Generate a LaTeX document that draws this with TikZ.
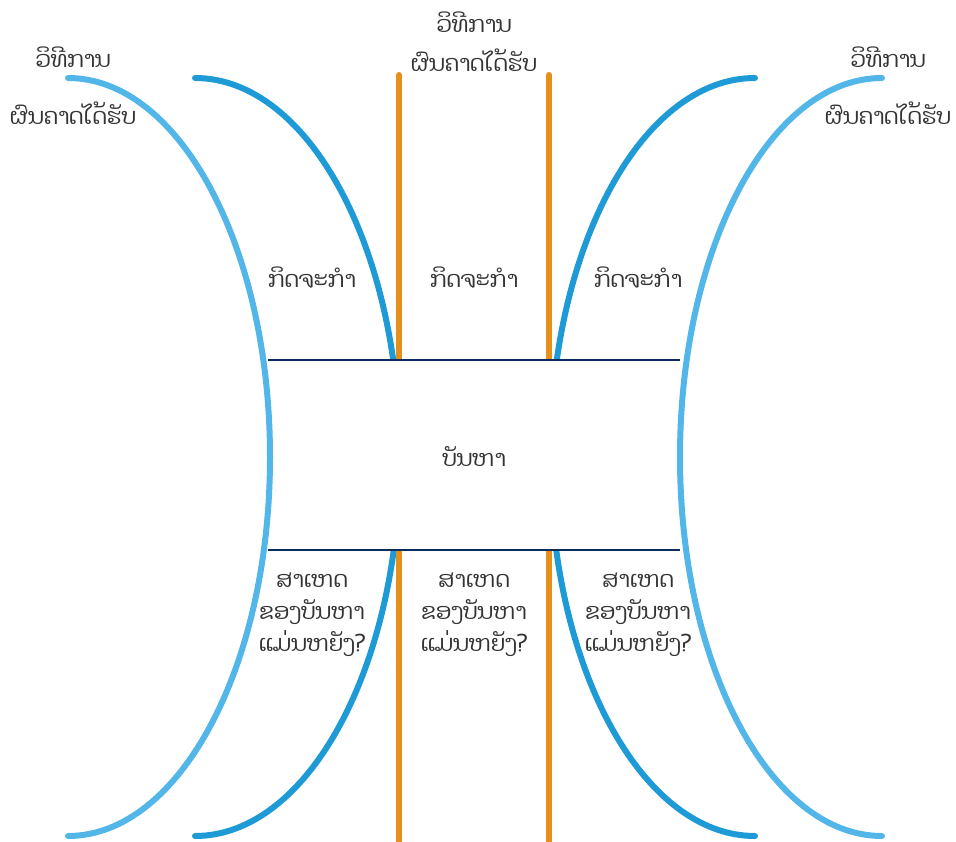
\documentclass[tikz,border=0pt]{standalone}
\usepackage{fontspec}
\newfontfamily\laofont[Script=Lao]{Dhyana}
\definecolor{skyline}{HTML}{52B6E8}
\definecolor{deepline}{HTML}{1E9BD7}
\definecolor{amberline}{HTML}{E4901A}
\definecolor{navyline}{HTML}{0A2D5E}
\definecolor{inktext}{HTML}{333333}
\tikzset{
  outerarc/.style={draw=skyline, line width=6pt, line cap=round},
  innerarc/.style={draw=deepline, line width=6pt, line cap=round},
  pillar/.style={draw=amberline, line width=6pt, line cap=round},
  rim/.style={draw=navyline, line width=2.2pt},
  lbl/.style={text=inktext, font=\laofont\fontsize{22.5}{32}\selectfont, align=center, inner sep=0pt}
}
\begin{document}
\begin{tikzpicture}[x=1pt,y=-1pt]
\useasboundingbox (0,0) rectangle (956,841);
% inner arcs (dark blue)
\draw[innerarc] (195,78) arc[start angle=-90, end angle=90, x radius=205, y radius=379];
\draw[innerarc] (755,78) arc[start angle=-90, end angle=-270, x radius=205, y radius=379];
% vertical pillars
\coordinate (pl1) at (399,75);
\coordinate (pl2) at (399,846);
\coordinate (pr1) at (549,75);
\coordinate (pr2) at (549,846);
\draw[pillar] (pl1) -- (pl2);
\draw[pillar] (pr1) -- (pr2);
% central problem box
\fill[white] (268,360) rectangle (680,550);
\coordinate (bt1) at (268,360);
\coordinate (bt2) at (680,360);
\coordinate (bb1) at (268,550);
\coordinate (bb2) at (680,550);
\draw[rim] (bt1) -- (bt2);
\draw[rim] (bb1) -- (bb2);
% outer arcs (light blue)
\draw[outerarc] (68,78) arc[start angle=-90, end angle=90, x radius=202, y radius=379];
\draw[outerarc] (882,78) arc[start angle=-90, end angle=-270, x radius=202, y radius=379];
% labels
\node[lbl] (ml) at (73,57) {ວິທີການ};
\node[lbl] (rl) at (73,113) {ຜົນຄາດໄດ້ຮັບ};
\node[lbl] (mc) at (474,22) {ວິທີການ};
\node[lbl] (rc) at (474,60) {ຜົນຄາດໄດ້ຮັບ};
\node[lbl] (mr) at (888,57) {ວິທີການ};
\node[lbl] (rr) at (888,113) {ຜົນຄາດໄດ້ຮັບ};
\node[lbl] (a1) at (312,278) {ກິດຈະກຳ};
\node[lbl] (a2) at (474,278) {ກິດຈະກຳ};
\node[lbl] (a3) at (638,278) {ກິດຈະກຳ};
\node[lbl] (pb) at (474,457) {ບັນຫາ};
\node[lbl] (c1) at (312,615) {ສາເຫດ\\ຂອງບັນຫາ\\ແມ່ນຫຍັງ?};
\node[lbl] (c2) at (474,615) {ສາເຫດ\\ຂອງບັນຫາ\\ແມ່ນຫຍັງ?};
\node[lbl] (c3) at (638,615) {ສາເຫດ\\ຂອງບັນຫາ\\ແມ່ນຫຍັງ?};
\end{tikzpicture}
\end{document}
